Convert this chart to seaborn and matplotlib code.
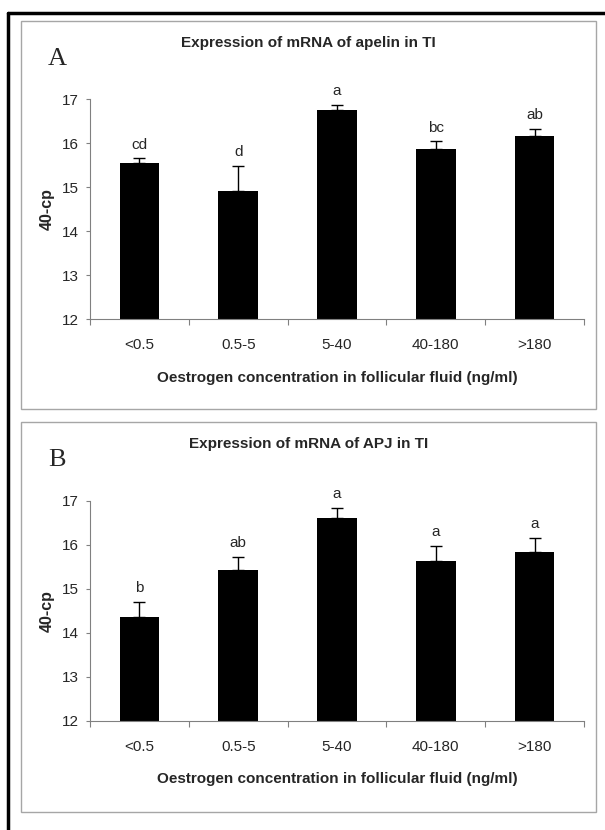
import numpy as np
import pandas as pd
import seaborn as sns
import matplotlib.pyplot as plt
from matplotlib.lines import Line2D
from matplotlib.patches import Rectangle

categories = ["<0.5", "0.5-5", "5-40", "40-180", ">180"]

apelin_mean = [15.55, 14.92, 16.74, 15.86, 16.15]
apelin_err = [0.10, 0.56, 0.13, 0.18, 0.17]
apelin_letters = ["cd", "d", "a", "bc", "ab"]

apj_mean = [14.36, 15.42, 16.61, 15.63, 15.84]
apj_err = [0.34, 0.31, 0.22, 0.34, 0.32]
apj_letters = ["b", "ab", "a", "a", "a"]

sns.set_style("white")
plt.rcParams['font.family'] = ['Liberation Sans', 'DejaVu Sans']

W, H = 605, 830
fig = plt.figure(figsize=(6.05, 8.3), dpi=100)

# outer thick frame (left and top only are visible)
fig.add_artist(Line2D([8 / W, 8 / W], [0, 1 - 13 / H], color="black", lw=2.5,
                      transform=fig.transFigure))
fig.add_artist(Line2D([8 / W, 1], [1 - 13 / H, 1 - 13 / H], color="black", lw=2.5,
                      transform=fig.transFigure))

gray = "#808080"


def panel(top_px, bottom_px, box_top, box_bottom, means, errs, letters, title, tag):
    # light gray box around each panel
    fig.add_artist(Rectangle((21 / W, 1 - box_bottom / H), 575 / W,
                             (box_bottom - box_top) / H, fill=False,
                             edgecolor="#a6a6a6", lw=1, transform=fig.transFigure))

    ax = fig.add_axes([90 / W, 1 - bottom_px / H, 494 / W, (bottom_px - top_px) / H])
    df = pd.DataFrame({"conc": categories, "val": means})
    sns.barplot(data=df, x="conc", y="val", color="black", width=0.4,
                saturation=1, linewidth=0, ax=ax)
    ax.errorbar(np.arange(len(categories)), means,
                yerr=[np.zeros(len(errs)), errs], fmt="none",
                ecolor="black", elinewidth=1, capsize=4, capthick=1)
    for i, (m, e, lab) in enumerate(zip(means, errs, letters)):
        ax.annotate(lab, (i, m + e), xytext=(0, 7), textcoords="offset points",
                    ha="center", va="baseline", fontsize=11)

    ax.set_ylim(12, 17)
    ax.set_xlim(-0.5, 4.5)
    ax.set_yticks([12, 13, 14, 15, 16, 17])
    ax.set_xticks(np.arange(-0.5, 5, 1))
    ax.set_xticklabels([])
    ax.set_xticks(np.arange(len(categories)), minor=True)
    ax.set_xticklabels(categories, minor=True, fontsize=11)
    ax.tick_params(axis="x", which="major", length=4, color=gray, width=0.8,
                   direction="out", bottom=True)
    ax.tick_params(axis="x", which="minor", length=0, pad=14)
    ax.tick_params(axis="y", length=3, color=gray, width=0.8, direction="out",
                   left=True, labelsize=11, pad=5)
    for s in ["top", "right"]:
        ax.spines[s].set_visible(False)
    for s in ["left", "bottom"]:
        ax.spines[s].set_color(gray)
        ax.spines[s].set_linewidth(0.8)

    ax.set_xlabel("Oestrogen concentration in follicular fluid (ng/ml)",
                  fontsize=11, fontweight="bold", labelpad=13)
    ax.set_ylabel("40-cp", fontsize=11.5, fontweight="bold", labelpad=5)

    fig.text(308.5 / W, 1 - (box_top + 22) / H, title, ha="center", va="center",
             fontsize=11, fontweight="bold")
    fig.text(57 / W, 1 - (box_top + 38) / H, tag, ha="center", va="center",
             fontsize=19, family=["Liberation Serif", "DejaVu Serif"])
    return ax


panel(99, 319, 21, 409, apelin_mean, apelin_err, apelin_letters,
      "Expression of mRNA of apelin in TI", "A")
panel(500.7, 720.7, 422, 812, apj_mean, apj_err, apj_letters,
      "Expression of mRNA of APJ in TI", "B")

fig.savefig("out.png", dpi=100)
